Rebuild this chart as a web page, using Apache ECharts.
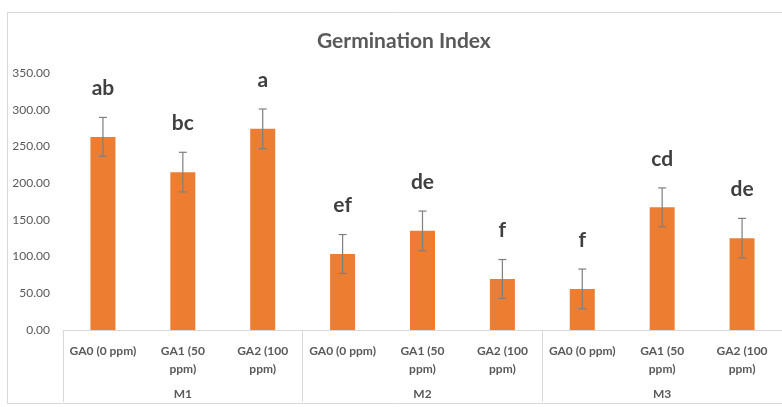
<!DOCTYPE html>
<html lang="en">
<head>
    <meta charset="UTF-8">
    <title>Germination Index</title>
    <script src="https://cdn.jsdelivr.net/npm/echarts@6/dist/echarts.min.js"></script>
    <style>
        html, body { margin: 0; padding: 0; background: #fff; }
    </style>
</head>
<body>
    <div id="main" style="width: 782px; height: 407px"></div>
    <script>
        var mychart = echarts.init(document.getElementById("main"))

        // data
        var treatments = ['GA0 (0 ppm)', 'GA1 (50\nppm)', 'GA2 (100\nppm)',
                          'GA0 (0 ppm)', 'GA1 (50\nppm)', 'GA2 (100\nppm)',
                          'GA0 (0 ppm)', 'GA1 (50\nppm)', 'GA2 (100\nppm)'];
        var groups = ['M1', 'M2', 'M3'];
        var means = [263, 215, 274, 103.5, 135, 69.5, 56, 167, 125];
        var errors = [26.5, 27, 27, 26.5, 27, 26.5, 27, 26.5, 27];
        var letters = ['ab', 'bc', 'a', 'ef', 'de', 'f', 'f', 'cd', 'de'];

        var font = 'Lato, "Open Sans", sans-serif';
        var textColor = '#595959';

        var errData = means.map(function (m, i) {
            return [i, m - errors[i], m + errors[i]];
        });

        option = {
            animation: false,
            title: {
                text: 'Germination Index',
                left: 312,
                top: 26,
                textStyle: { fontFamily: font, fontSize: 21, fontWeight: 'bold', color: textColor }
            },
            graphic: [{
                type: 'rect',
                shape: { x: 7.5, y: 12.5, width: 800, height: 391 },
                style: { fill: 'none', stroke: '#d9d9d9', lineWidth: 1 },
                silent: true
            }],
            grid: { left: 63, right: -7, top: 73, bottom: 77 },
            xAxis: [{
                type: 'category',
                data: treatments,
                axisLine: { lineStyle: { color: '#d9d9d9' } },
                axisTick: { show: false },
                axisLabel: {
                    interval: 0, margin: 12, fontFamily: font, fontSize: 12,
                    fontWeight: 'bold', color: textColor, lineHeight: 18
                }
            }, {
                type: 'category',
                data: groups,
                position: 'bottom',
                axisLine: { show: false },
                axisTick: { show: true, length: 72, lineStyle: { color: '#d9d9d9' } },
                axisLabel: {
                    margin: 58, fontFamily: font, fontSize: 12,
                    fontWeight: 'bold', color: textColor
                }
            }],
            yAxis: {
                type: 'value',
                min: 0,
                max: 350,
                interval: 50,
                splitLine: { show: false },
                axisLine: { show: false },
                axisTick: { show: false },
                axisLabel: {
                    margin: 13, fontFamily: font, fontSize: 12, color: textColor,
                    formatter: function (v) { return v.toFixed(2); }
                }
            },
            series: [{
                type: 'bar',
                data: means,
                barWidth: 25,
                itemStyle: { color: '#ED7D31' },
                label: {
                    show: true,
                    position: 'top',
                    distance: 38,
                    fontFamily: font,
                    fontSize: 21,
                    fontWeight: 'bold',
                    color: '#404040',
                    formatter: function (p) { return letters[p.dataIndex]; }
                }
            }, {
                type: 'custom',
                data: errData,
                z: 10,
                renderItem: function (params, api) {
                    var lo = api.coord([api.value(0), api.value(1)]);
                    var hi = api.coord([api.value(0), api.value(2)]);
                    var hw = 4;
                    var st = { stroke: '#7f7f7f', lineWidth: 1.2 };
                    return {
                        type: 'group',
                        children: [
                            { type: 'line', shape: { x1: hi[0], y1: hi[1], x2: lo[0], y2: lo[1] }, style: st },
                            { type: 'line', shape: { x1: hi[0] - hw, y1: hi[1], x2: hi[0] + hw, y2: hi[1] }, style: st },
                            { type: 'line', shape: { x1: lo[0] - hw, y1: lo[1], x2: lo[0] + hw, y2: lo[1] }, style: st }
                        ]
                    };
                }
            }]
        }

        mychart.setOption(option)
    </script>
</body>
</html>
